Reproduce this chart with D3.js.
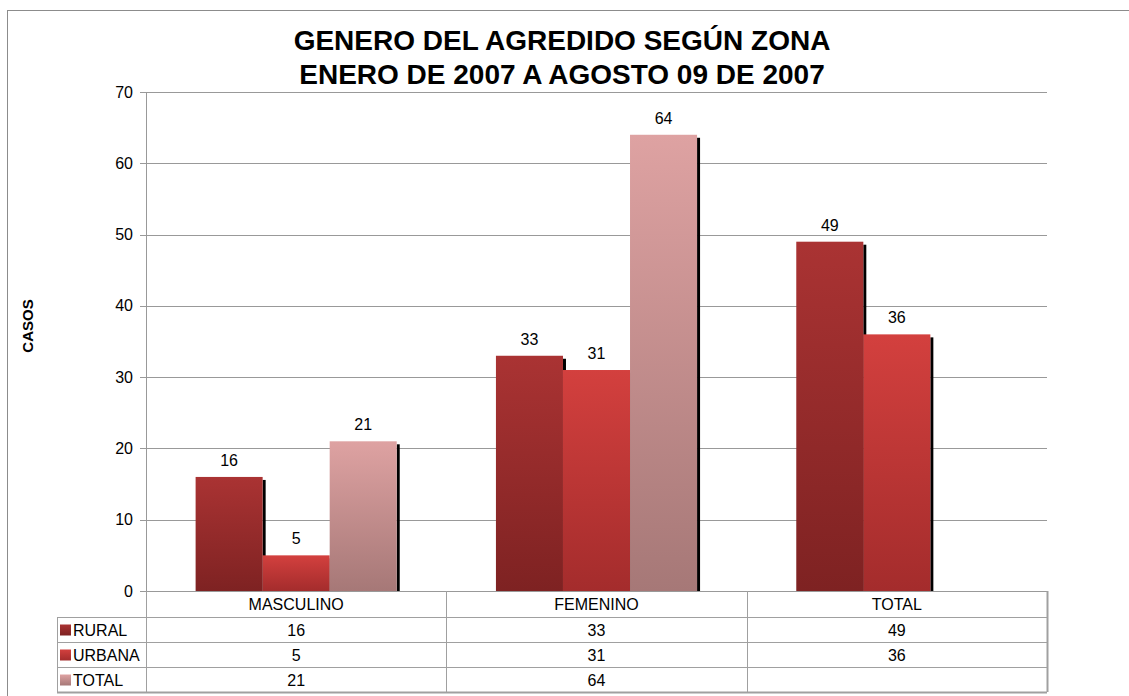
<!DOCTYPE html>
<html>
<head>
<meta charset="utf-8">
<script src="https://cdn.jsdelivr.net/npm/d3@7"></script>
<style>
  body { margin: 0; background: #fff; }
  text { font-family: "Liberation Sans", Arial, sans-serif; }
</style>
</head>
<body>
<div id="chart"></div>
<script>
(function () {

  // data
  var categories = ["MASCULINO", "FEMENINO", "TOTAL"]
  var seriesNames = ["RURAL", "URBANA", "TOTAL"]
  var rural = [16, 33, 49]
  var urbana = [5, 31, 36]
  var total = [21, 64, null]
  var yTicks = [0, 10, 20, 30, 40, 50, 60, 70]

  var series = [rural, urbana, total]
  var colors = [
    { top: "#aa3333", bottom: "#7e2222" },
    { top: "#d3403e", bottom: "#a42c2c" },
    { top: "#dea2a2", bottom: "#a67877" }
  ]

  var W = 1129, H = 696
  var margin = { top: 92, left: 146, right: 82, bottom: 105 }
  var width = W - margin.left - margin.right,
    height = H - margin.top - margin.bottom
  var fs = 16

  var svg = d3.select("#chart").append("svg")
    .attr("width", W)
    .attr("height", H)

  var defs = svg.append("defs")
  colors.forEach(function (c, i) {
    var g = defs.append("linearGradient")
      .attr("id", "grad" + i)
      .attr("x1", 0).attr("y1", 0).attr("x2", 0).attr("y2", 1)
    g.append("stop").attr("offset", "0%").attr("stop-color", c.top)
    g.append("stop").attr("offset", "100%").attr("stop-color", c.bottom)
  })

  // outer frame
  svg.append("rect")
    .attr("x", 7.5).attr("y", 10.5)
    .attr("width", W + 20).attr("height", H + 20)
    .attr("fill", "none")
    .attr("stroke", "#8c8c8c")

  // title
  var title = svg.append("text")
    .attr("text-anchor", "middle")
    .attr("font-size", 28)
    .attr("font-weight", "bold")
    .attr("fill", "#000")
  title.append("tspan").attr("x", 562).attr("y", 50).text("GENERO DEL AGREDIDO SEGÚN ZONA")
  title.append("tspan").attr("x", 562).attr("y", 84).text("ENERO DE 2007 A AGOSTO 09 DE 2007")

  svg.append("text")
    .attr("transform", "translate(33,326) rotate(-90)")
    .attr("text-anchor", "middle")
    .attr("font-size", 15)
    .attr("font-weight", "bold")
    .text("CASOS")

  var chart = svg.append("g")
    .attr("transform", "translate(" + margin.left + "," + margin.top + ")")

  var xScale = d3.scaleBand().domain(categories).range([0, width]).paddingInner(0).paddingOuter(0)
  var yScale = d3.scaleLinear().domain([0, 70]).range([height, 0])
  var inner = d3.scaleBand().domain(d3.range(series.length))
    .range([0, xScale.bandwidth()]).paddingOuter(0.74).paddingInner(0)

  // gridlines
  chart.selectAll(".grid")
    .data(yTicks)
    .enter().append("line")
    .attr("x1", -6).attr("x2", width)
    .attr("y1", function (d) { return Math.round(yScale(d)) + 0.5 })
    .attr("y2", function (d) { return Math.round(yScale(d)) + 0.5 })
    .attr("stroke", "#999")

  var yAxis = d3.axisLeft(yScale).tickValues(yTicks).tickSize(0).tickPadding(13)
  var ya = chart.append("g").call(yAxis)
  ya.select(".domain").remove()
  ya.selectAll("text").attr("font-size", fs).attr("fill", "#000")
    .style("font-family", "'Liberation Sans', Arial, sans-serif")

  chart.append("line")
    .attr("x1", 0.5).attr("x2", 0.5).attr("y1", 0).attr("y2", height)
    .attr("stroke", "#999")

  // bars
  series.forEach(function (vals, si) {
    var g = chart.append("g")
    var pts = categories.map(function (c, ci) { return { cat: c, v: vals[ci] } })
      .filter(function (d) { return d.v != null })

    g.selectAll(".shadow")
      .data(pts)
      .enter().append("rect")
      .attr("x", function (d) { return xScale(d.cat) + inner(si) + inner.bandwidth() })
      .attr("y", function (d) { return yScale(d.v) + 3 })
      .attr("width", 3)
      .attr("height", function (d) { return height - yScale(d.v) - 3 })
      .attr("fill", "#000")

    g.selectAll(".bar")
      .data(pts)
      .enter().append("rect")
      .attr("x", function (d) { return xScale(d.cat) + inner(si) })
      .attr("y", function (d) { return yScale(d.v) })
      .attr("width", inner.bandwidth())
      .attr("height", function (d) { return height - yScale(d.v) })
      .attr("fill", "url(#grad" + si + ")")

    g.selectAll(".label")
      .data(pts)
      .enter().append("text")
      .attr("x", function (d) { return xScale(d.cat) + inner(si) + inner.bandwidth() / 2 })
      .attr("y", function (d) { return yScale(d.v) - 11 })
      .attr("text-anchor", "middle")
      .attr("font-size", fs)
      .text(function (d) { return d.v })
  })

  // data table
  var rowH = 25, headH = 26
  var tbl = svg.append("g").attr("transform", "translate(0," + (margin.top + height) + ")")
  var x0 = 57, x2 = margin.left + width
  var lineColor = "#a0a0a0"

  var hy = [headH, headH + rowH, headH + 2 * rowH, headH + 3 * rowH]
  hy.forEach(function (y, i) {
    tbl.append("line")
      .attr("x1", x0).attr("x2", x2)
      .attr("y1", y + 0.5).attr("y2", y + 0.5)
      .attr("stroke", lineColor).attr("stroke-width", i == 3 ? 2 : 1)
  })
  tbl.append("line").attr("x1", x0 + 0.5).attr("x2", x0 + 0.5)
    .attr("y1", headH).attr("y2", headH + 3 * rowH).attr("stroke", lineColor)
  categories.forEach(function (c) {
    var x = Math.round(xScale(c)) + margin.left + 0.5
    tbl.append("line").attr("x1", x).attr("x2", x)
      .attr("y1", 0).attr("y2", headH + 3 * rowH).attr("stroke", lineColor)
  })
  tbl.append("line").attr("x1", x2 + 0.5).attr("x2", x2 + 0.5)
    .attr("y1", 0).attr("y2", headH + 3 * rowH).attr("stroke", lineColor).attr("stroke-width", 2)

  categories.forEach(function (c) {
    tbl.append("text")
      .attr("x", margin.left + xScale(c) + xScale.bandwidth() / 2)
      .attr("y", 19)
      .attr("text-anchor", "middle")
      .attr("font-size", fs)
      .text(c)
  })

  seriesNames.forEach(function (name, si) {
    var yMid = headH + si * rowH + rowH / 2
    tbl.append("rect")
      .attr("x", 60).attr("y", yMid - 5)
      .attr("width", 11).attr("height", 11)
      .attr("fill", "url(#grad" + si + ")")
    tbl.append("text")
      .attr("x", 73).attr("y", yMid + 6)
      .attr("font-size", fs)
      .text(name)
    series[si].forEach(function (v, ci) {
      if (v == null) return
      tbl.append("text")
        .attr("x", margin.left + xScale(categories[ci]) + xScale.bandwidth() / 2)
        .attr("y", yMid + 6)
        .attr("text-anchor", "middle")
        .attr("font-size", fs)
        .text(v)
    })
  })

})()
</script>
</body>
</html>
